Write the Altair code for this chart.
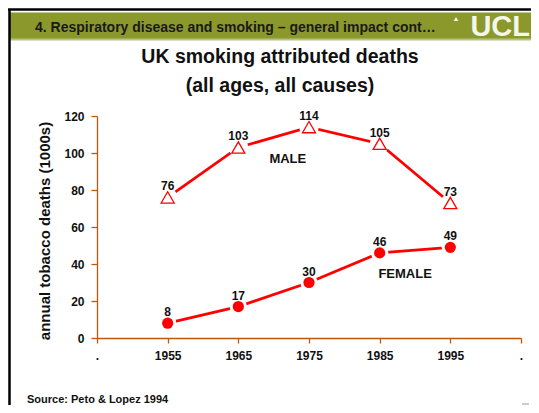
import altair as alt
import pandas as pd

# ---- data ----
years = [1955, 1965, 1975, 1985, 1995]
male = [76, 103, 114, 105, 73]
female = [8, 17, 30, 46, 49]
x_ticks = [1945, 1955, 1965, 1975, 1985, 1995, 2005]
y_ticks = [0, 20, 40, 60, 80, 100, 120]
series_names = ["MALE", "FEMALE"]
series_label_x = [1972, 1988.6]
series_label_y = [97, 34.6]

title_lines = ["UK smoking attributed deaths", "(all ages, all causes)"]
header_text = "4. Respiratory disease and smoking \u2013 general impact cont\u2026"
source_text = "Source: Peto & Lopez 1994"
y_title = "annual tobacco deaths (1000s)"

FONT = "Liberation Sans"
RED = "#FF0000"
AXIS = "#C0580A"
GREEN = "#8A982C"

df = pd.DataFrame(
    {"year": years * 2, "value": male + female,
     "sex": ["MALE"] * len(years) + ["FEMALE"] * len(years)}
)
dm = df[df.sex == "MALE"]
dfem = df[df.sex == "FEMALE"]
lab = pd.DataFrame({"name": series_names, "year": series_label_x, "value": series_label_y})
one = pd.DataFrame({"a": [0]})

xs = alt.Scale(domain=[1945, 2005], nice=False, zero=False)
ys = alt.Scale(domain=[0, 120], nice=False)

x_axis = alt.Axis(
    values=x_ticks, format="d",
    labelExpr="datum.value == 1945 || datum.value == 2005 ? '.' : datum.label",
    title=None, grid=False, domainColor=AXIS, tickColor=AXIS, domainWidth=1.3,
    tickWidth=1.3, tickSize=5, labelFont=FONT, labelFontSize=12, labelFontWeight="bold",
    labelColor="#111111", labelPadding=7, labelFlush=False, labelOverlap=False,
)
y_axis = alt.Axis(
    values=y_ticks, tickCount=7, title=None, grid=False, domainColor=AXIS, tickColor=AXIS,
    domainWidth=1.3, tickWidth=1.3, tickSize=6, labelFont=FONT, labelFontSize=12,
    labelFontWeight="bold", labelColor="#111111", labelPadding=7, labelOverlap=False,
)

base_m = alt.Chart(dm)
base_f = alt.Chart(dfem)

def enc(chart):
    return chart.encode(
        x=alt.X("year:Q", scale=xs, axis=x_axis),
        y=alt.Y("value:Q", scale=ys, axis=y_axis),
    )

line_m = enc(base_m.mark_line(color=RED, strokeWidth=2.8))
line_f = enc(base_f.mark_line(color=RED, strokeWidth=2.8))
halo_m = enc(base_m.mark_point(shape="circle", filled=True, color="white", size=380, opacity=1))
halo_f = enc(base_f.mark_point(shape="circle", filled=True, color="white", size=300, opacity=1))
pts_m = enc(base_m.mark_point(shape="triangle-up", filled=True, fill="white", stroke=RED,
                               strokeWidth=1.3, size=170, opacity=1))
pts_f = enc(base_f.mark_point(shape="circle", filled=True, color=RED, size=125, opacity=1))
txt = enc(alt.Chart(df).mark_text(font=FONT, fontSize=12, fontWeight="bold", color="#111111",
                                  dy=-11, baseline="middle")).encode(text="value:Q")
series_lab = enc(alt.Chart(lab).mark_text(font=FONT, fontSize=13, fontWeight="bold",
                                          color="#111111", baseline="middle")).encode(
    text="name:N")

# ---- decorations (slide frame) ----
band = alt.Chart(one).mark_rect(color=GREEN).encode(
    x=alt.value(-87), x2=alt.value(434), y=alt.value(-103.5), y2=alt.value(-76))
band_edge = alt.Chart(one).mark_rule(color="#B9C283", strokeWidth=2).encode(
    x=alt.value(-87), x2=alt.value(434), y=alt.value(-76.5))
top_border = alt.Chart(one).mark_rule(color="black", strokeWidth=2.5).encode(
    x=alt.value(-89), x2=alt.value(434), y=alt.value(-106.5))
left_border = alt.Chart(one).mark_rule(color="black", strokeWidth=2.5).encode(
    x=alt.value(-87.5), y=alt.value(-107), y2=alt.value(290))
header = alt.Chart(one).mark_text(font=FONT, fontSize=14, fontWeight="bold", color="#1A1A1A",
                                  align="left", baseline="alphabetic").encode(
    x=alt.value(-62), y=alt.value(-84), text=alt.value(header_text))
ucl = alt.Chart(one).mark_text(font=FONT, fontSize=29, fontWeight="bold", color="#F4F6EA",
                               align="right", baseline="alphabetic").encode(
    x=alt.value(433), y=alt.value(-80), text=alt.value("UCL"))
ucl_mark = alt.Chart(one).mark_point(shape="triangle-up", filled=True, color="#F4F6EA",
                                     size=22, opacity=1).encode(
    x=alt.value(359), y=alt.value(-97))
t1 = alt.Chart(one).mark_text(font=FONT, fontSize=19.5, fontWeight="bold", color="#111111",
                              align="center", baseline="alphabetic").encode(
    x=alt.value(183), y=alt.value(-53), text=alt.value(title_lines[0]))
t2 = alt.Chart(one).mark_text(font=FONT, fontSize=19.5, fontWeight="bold", color="#111111",
                              align="center", baseline="alphabetic").encode(
    x=alt.value(183), y=alt.value(-24), text=alt.value(title_lines[1]))
ytitle = alt.Chart(one).mark_text(font=FONT, fontSize=15, fontWeight="bold", color="#111111",
                                  align="center", baseline="middle", angle=270).encode(
    x=alt.value(-52), y=alt.value(115), text=alt.value(y_title))
source = alt.Chart(one).mark_text(font=FONT, fontSize=11, fontWeight="bold", color="#111111",
                                  align="left", baseline="middle").encode(
    x=alt.value(-70), y=alt.value(284), text=alt.value(source_text))
dash = alt.Chart(one).mark_rule(color="#999999", strokeWidth=1).encode(
    x=alt.value(425), x2=alt.value(432), y=alt.value(288))

chart = alt.layer(
    band, band_edge, top_border, left_border, header, ucl, ucl_mark, t1, t2, ytitle,
    source, dash,
    line_m, line_f, halo_m, halo_f, pts_m, pts_f, txt, series_lab,
).properties(
    width=424, height=222,
    autosize=alt.AutoSizeParams(type="none"),
    padding={"left": 89, "top": 108, "right": 10, "bottom": 67},
    background="white",
).configure_view(stroke=None).configure_axisY(labelOverlap=False, values=y_ticks)

chart.save("out.html", embed_options={"renderer": "svg", "actions": False})
